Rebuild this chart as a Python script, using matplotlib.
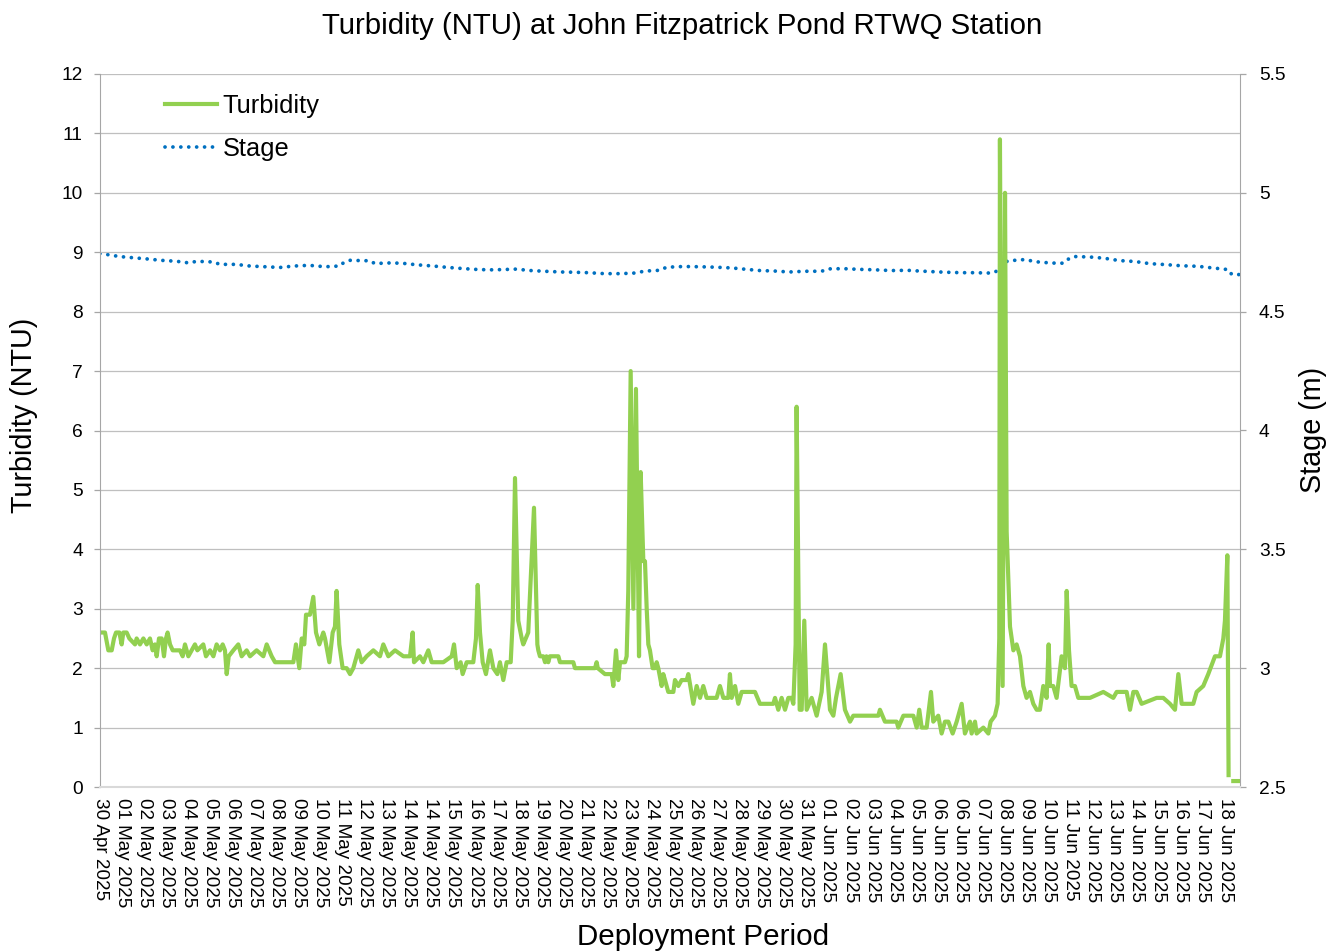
import numpy as np
import matplotlib
matplotlib.use("Agg")
import matplotlib.pyplot as plt
from matplotlib.ticker import FuncFormatter

plt.rcParams['font.family'] = ['Liberation Sans', 'DejaVu Sans']

# ---------------- data ----------------
# elapsed hours since start of deployment (30 Apr 2025 ~14:00)
turb_hours = [
    0, 2.8, 5.2, 8.7, 12.2, 14.6, 16.7, 20.2, 22.6, 24.3, 27.8, 30.6, 36.5, 38.2, 41.7, 45.2,
    48.7, 52.1, 54.9, 57.3, 59.1, 61.5, 64.3, 66.7, 68.8, 70.5, 73.0, 75.8, 83.4, 86.2, 88.6,
    92.1, 95.6, 99.0, 101.5, 107.7, 110.5, 114.7, 118.2, 121.6, 125.1, 127.9, 130.3, 132.1,
    134.2, 139.0, 144.2, 147.7, 152.9, 156.4, 163.3, 170.3, 173.8, 179.0, 182.5, 191.1, 201.6,
    204.3, 207.8, 210.3, 213.0, 214.8, 218.9, 222.4, 225.2, 228.7, 232.8, 234.6, 239.1, 242.6,
    245.0, 246.7, 249.5, 253.0, 257.2, 260.7, 264.1, 269.3, 272.8, 278.0, 285.0, 291.9, 295.4,
    300.6, 307.6, 316.3, 323.2, 326.0, 327.4, 333.6, 337.1, 342.3, 345.8, 358.0, 366.7, 369.1,
    371.9, 376.0, 378.1, 382.3, 385.8, 389.2, 392.0, 393.8, 396.2, 399.0, 402.4, 406.6, 410.1,
    414.3, 417.0, 420.5, 424.0, 428.2, 430.3, 432.7, 436.1, 439.7, 441.3, 446.5, 452.5, 456.0,
    457.0, 458.7, 462.2, 464.0, 465.5, 467.4, 469.0, 476.1, 477.9, 479.6, 493.5, 495.2, 516.1,
    517.8, 519.0, 526.5, 533.5, 535.2, 538.0, 540.4, 542.2, 547.4, 549.1, 550.8, 553.3, 556.1,
    558.8, 562.0, 563.7, 566.5, 568.2, 570.0, 571.7, 573.4, 576.2, 578.6, 580.4, 582.1, 585.6,
    587.3, 589.1, 592.5, 597.8, 599.5, 603.0, 606.4, 611.7, 613.4, 618.6, 622.1, 625.6, 629.0,
    632.5, 642.9, 646.4, 649.9, 655.1, 656.8, 658.6, 662.1, 665.5, 669.0, 682.9, 688.1, 702.0,
    703.8, 707.2, 710.7, 714.2, 717.7, 721.1, 722.9, 725.3, 726.3, 729.5, 731.6, 734.3, 736.8,
    742.0, 747.2, 752.4, 755.9, 761.1, 764.6, 767.4, 772.2, 776.7, 782.0, 785.4, 802.8, 811.5,
    813.2, 818.4, 830.6, 832.3, 837.6, 848.0, 851.5, 854.2, 856.7, 861.9, 866.4, 868.8, 874.0,
    877.5, 881.0, 884.5, 889.0, 893.2, 898.4, 901.8, 907.1, 908.8, 912.3, 914.0, 921.0, 926.2,
    928.6, 933.1, 935.9, 937.6, 938.3, 941.1, 943.6, 945.3, 948.8, 952.3, 955.7, 959.2, 962.7,
    966.1, 969.6, 973.1, 976.6, 980.0, 983.5, 987.0, 989.1, 990.5, 993.9, 997.4, 1002.6, 1006.1,
    1007.9, 1010.3, 1013.0, 1016.5, 1020.0, 1032.2, 1046.1, 1056.5, 1060.0, 1070.4, 1073.9,
    1077.4, 1080.8, 1086.0, 1101.7, 1108.6, 1115.6, 1120.8, 1124.3, 1127.8, 1139.9, 1143.4,
    1150.3, 1155.5, 1162.5, 1167.7, 1171.2, 1172.9, 1175.4, 1176.7, 1179.0, 1181.6, 1187.5,
]
turbidity = [
    2.6, 2.6, 2.6, 2.3, 2.3, 2.5, 2.6, 2.6, 2.4, 2.6, 2.6, 2.5, 2.4, 2.5, 2.4, 2.5,
    2.4, 2.5, 2.3, 2.4, 2.2, 2.5, 2.5, 2.2, 2.5, 2.6, 2.4, 2.3, 2.3, 2.2, 2.4,
    2.2, 2.3, 2.4, 2.3, 2.4, 2.2, 2.3, 2.2, 2.4, 2.3, 2.4, 2.3, 1.9,
    2.2, 2.3, 2.4, 2.2, 2.3, 2.2, 2.3, 2.2, 2.4, 2.2, 2.1, 2.1, 2.1,
    2.4, 2.0, 2.5, 2.4, 2.9, 2.9, 3.2, 2.6, 2.4, 2.6, 2.5, 2.1, 2.6,
    2.7, 3.3, 2.4, 2.0, 2.0, 1.9, 2.0, 2.3, 2.1, 2.2, 2.3, 2.2, 2.4,
    2.2, 2.3, 2.2, 2.2, 2.6, 2.1, 2.2, 2.1, 2.3, 2.1, 2.1, 2.2, 2.4,
    2.0, 2.1, 1.9, 2.1, 2.1, 2.1, 2.5, 3.4, 2.6, 2.1, 1.9, 2.3, 2.0,
    1.9, 2.1, 1.8, 2.1, 2.1, 2.8, 5.2, 2.8, 2.5, 2.4, 2.6, 4.7, 2.4,
    2.3, 2.2, 2.2, 2.1, 2.2, 2.1, 2.2, 2.2, 2.2, 2.1, 2.1, 2.0, 2.0,
    2.1, 2.0, 1.9, 1.9, 1.7, 2.3, 1.8, 2.1, 2.1, 2.2, 3.3, 7.0, 3.0,
    6.7, 2.2, 5.3, 3.8, 3.8, 3.0, 2.4, 2.3, 2.0, 2.0, 2.1, 2.0, 1.7,
    1.9, 1.8, 1.6, 1.6, 1.8, 1.7, 1.8, 1.8, 1.9, 1.4, 1.7, 1.5, 1.7,
    1.5, 1.5, 1.7, 1.5, 1.5, 1.9, 1.5, 1.7, 1.4, 1.6, 1.6, 1.4, 1.4,
    1.5, 1.3, 1.5, 1.3, 1.5, 1.5, 1.4, 2.4, 6.4, 1.3, 1.3, 2.8, 1.3,
    1.5, 1.2, 1.6, 2.4, 1.3, 1.2, 1.5, 1.9, 1.3, 1.1, 1.2, 1.2, 1.2,
    1.3, 1.1, 1.1, 1.0, 1.2, 1.2, 1.0, 1.3, 1.0, 1.0, 1.6, 1.1, 1.2,
    0.9, 1.1, 1.1, 0.9, 1.1, 1.4, 0.9, 1.1, 0.9, 1.1, 0.9, 1.0, 0.9,
    1.1, 1.2, 1.4, 2.5, 10.9, 1.7, 10.0, 4.3, 2.7, 2.3, 2.4, 2.2, 1.7,
    1.5, 1.6, 1.4, 1.3, 1.3, 1.7, 1.5, 2.4, 1.7, 1.7, 1.5, 2.2, 2.0,
    3.3, 2.3, 1.7, 1.7, 1.5, 1.5, 1.6, 1.5, 1.6, 1.6, 1.3,
    1.6, 1.6, 1.4, 1.5, 1.5, 1.4, 1.3, 1.9, 1.4, 1.4, 1.6,
    1.7, 1.9, 2.2, 2.2, 2.5, 2.8, 3.9, 0.2, np.nan, 0.1, 0.1,
]

stage_hours = [
    0, 3.5, 20.2, 34.1, 48.7, 63.6, 79.9, 92.8, 100.8, 118.2, 125.1, 141.8, 156.4, 172.0,
    187.7, 202.3, 217.9, 234.6, 249.5, 253.7, 260.7, 281.5, 286.7, 298.9, 314.5, 330.9,
    347.5, 363.2, 379.5, 395.5, 410.1, 418.8, 433.7, 449.0, 463.3, 480.3, 493.5, 509.1,
    525.8, 542.2, 556.1, 568.9, 583.2, 590.8, 608.2, 625.6, 642.2, 658.6, 674.2, 688.1,
    703.1, 718.7, 735.0, 752.4, 759.4, 775.0, 791.7, 808.4, 825.0, 842.1, 849.7, 864.3,
    881.0, 898.4, 915.1, 923.7, 931.4, 936.6, 940.1, 947.0, 963.4, 980.0, 996.4, 1004.4,
    1009.6, 1015.5, 1032.2, 1046.8, 1062.7, 1079.1, 1094.7, 1111.1, 1127.8, 1144.4,
    1160.1, 1176.4, 1179.9, 1187.9,
]
stage = [
    4.745, 4.743, 4.732, 4.727, 4.722, 4.716, 4.712, 4.705, 4.712, 4.709, 4.699, 4.699, 4.692, 4.689,
    4.686, 4.692, 4.695, 4.689, 4.692, 4.705, 4.716, 4.714, 4.702, 4.705, 4.704, 4.697,
    4.692, 4.686, 4.681, 4.677, 4.676, 4.677, 4.679, 4.673, 4.670, 4.667, 4.666, 4.664,
    4.660, 4.660, 4.662, 4.671, 4.674, 4.687, 4.690, 4.689, 4.687, 4.684, 4.678, 4.673,
    4.671, 4.667, 4.670, 4.670, 4.680, 4.681, 4.678, 4.676, 4.673, 4.674, 4.672, 4.669,
    4.666, 4.664, 4.664, 4.662, 4.664, 4.674, 4.702, 4.714, 4.719, 4.708, 4.704, 4.704,
    4.721, 4.732, 4.730, 4.725, 4.715, 4.711, 4.702, 4.698, 4.693, 4.691,
    4.684, 4.677, 4.657, 4.656,
]

tick_labels = [
    "30 Apr 2025", "01 May 2025", "02 May 2025", "03 May 2025", "04 May 2025", "05 May 2025",
    "06 May 2025", "07 May 2025", "08 May 2025", "09 May 2025", "10 May 2025", "11 May 2025",
    "12 May 2025", "13 May 2025", "14 May 2025", "14 May 2025", "15 May 2025", "16 May 2025",
    "17 May 2025", "18 May 2025", "19 May 2025", "20 May 2025", "21 May 2025", "22 May 2025",
    "23 May 2025", "24 May 2025", "25 May 2025", "26 May 2025", "27 May 2025", "28 May 2025",
    "29 May 2025", "30 May 2025", "31 May 2025", "01 Jun 2025", "02 Jun 2025", "03 Jun 2025",
    "04 Jun 2025", "05 Jun 2025", "06 Jun 2025", "06 Jun 2025", "07 Jun 2025", "08 Jun 2025",
    "09 Jun 2025", "10 Jun 2025", "11 Jun 2025", "12 Jun 2025", "13 Jun 2025", "14 Jun 2025",
    "15 Jun 2025", "16 Jun 2025", "17 Jun 2025", "18 Jun 2025",
]
TICK_STEP_H = 23.0   # category-axis label interval (hours)
X_END_H = 1188.6

# ---------------- figure ----------------
W, H = 1341, 952
fig = plt.figure(figsize=(W / 100, H / 100), dpi=100)
L, R, T, B = 100, 1240, 74, 787
ax = fig.add_axes([L / W, 1 - B / H, (R - L) / W, (B - T) / H])
ax2 = ax.twinx()

GREEN = '#92D050'
BLUE = '#0070C0'
GRID = '#BFBFBF'
SPINE = '#A6A6A6'

l2, = ax2.plot(stage_hours, stage, color=BLUE, lw=2.7,
               linestyle=(0, (0.01, 2.1)), dash_capstyle='round', label='Stage')
l1, = ax.plot(turb_hours, turbidity, color=GREEN, lw=3.0,
              solid_joinstyle='round', label='Turbidity')

ax.set_zorder(ax2.get_zorder() + 1)
ax.patch.set_visible(False)

ax.set_xlim(0, X_END_H)
ax.set_ylim(0, 12)
ax2.set_ylim(2.5, 5.5)
ax.set_yticks(range(0, 13))
ax2.set_yticks(np.arange(2.5, 5.51, 0.5))
ax2.yaxis.set_major_formatter(FuncFormatter(lambda v, p: f'{v:g}'))

ax.set_xticks([TICK_STEP_H * k for k in range(len(tick_labels))])
ax.set_xticklabels(tick_labels, rotation=-90, ha='center', va='top', fontsize=13.6)
ax.tick_params(axis='x', length=0, pad=8)

ax.grid(axis='y', color=GRID, lw=0.9)
ax.set_axisbelow(True)

for a in (ax, ax2):
    a.spines['top'].set_visible(False)
    a.spines['left'].set_color(SPINE)
    a.spines['right'].set_color(SPINE)
    a.spines['bottom'].set_color('#D9D9D9')
    a.spines['bottom'].set_linewidth(1.5)
ax.spines['right'].set_visible(False)
ax2.spines['left'].set_visible(False)
ax2.spines['bottom'].set_visible(False)

ax.tick_params(axis='y', direction='out', length=4.5, width=0.9, color=SPINE,
               labelsize=13.8, pad=8)
ax2.tick_params(axis='y', direction='out', length=4.5, width=0.9, color=SPINE,
                labelsize=13.8, pad=9)

ax.legend(handles=[l1, l2], loc='upper left', bbox_to_anchor=(0.0573, 0.972),
          frameon=False, fontsize=18.3, handlelength=2.05, handletextpad=0.2,
          labelspacing=0.75, borderaxespad=0, borderpad=0)

fig.text(682 / W, 1 - 26 / H, 'Turbidity (NTU) at John Fitzpatrick Pond RTWQ Station',
         ha='center', va='center', fontsize=21.2)
fig.text(703 / W, 1 - 937 / H, 'Deployment Period', ha='center', va='center', fontsize=21.3)
fig.text(24 / W, 1 - 415 / H, 'Turbidity (NTU)', ha='center', va='center',
         rotation=90, fontsize=20.7)
fig.text(1313 / W, 1 - 430 / H, 'Stage (m)', ha='center', va='center',
         rotation=90, fontsize=20.7)

fig.savefig('out.png', dpi=100)
